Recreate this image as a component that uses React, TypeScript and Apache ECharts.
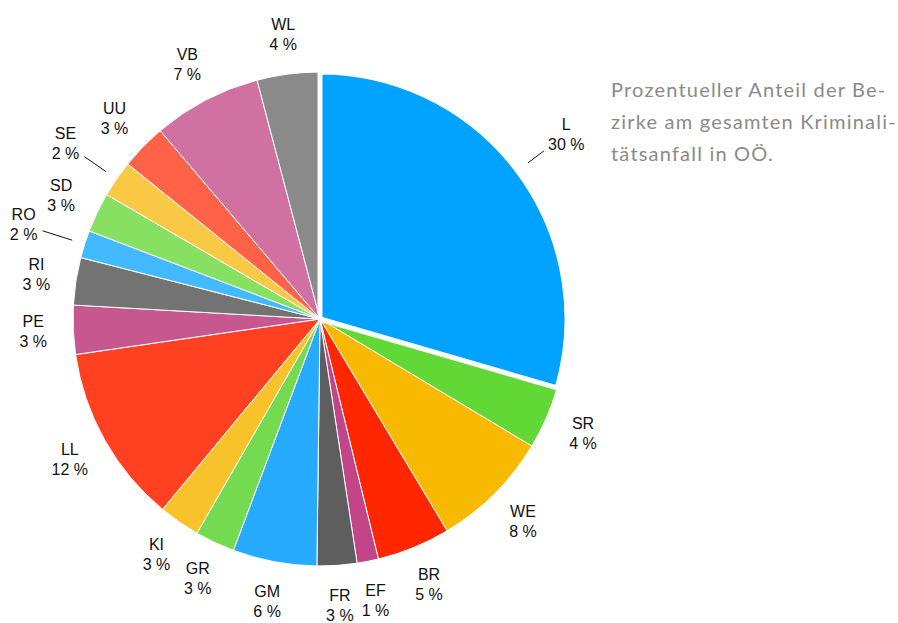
import React, { useEffect, useRef } from "react";
import * as echarts from "echarts";

const categories = ["L", "SR", "WE", "BR", "EF", "FR", "GM", "GR", "KI", "LL", "PE", "RI", "RO", "SD", "SE", "UU", "VB", "WL"];
const values = [29.5, 4.1, 7.8, 4.8, 1.4, 2.6, 5.5, 2.6, 2.7, 11.7, 3.2, 3.1, 1.8, 2.6, 2.4, 3.0, 7.1, 4.1];
const colors = [
  "#00A2FF", "#61D836", "#F8BA00", "#FF2600", "#C2458A", "#5E5E5E",
  "#26ABFF", "#74DA4F", "#F8C32A", "#FF4122", "#C7578F", "#737373",
  "#43B9FF", "#88E063", "#F9C945", "#FF6246", "#D071A2", "#8A8A8A",
];
const highlighted = ["L"];
const farLabels = ["L", "SE", "RO"];
const leaderLengths: Record<string, number> = { L: 20, SE: 26, RO: 31 };
const farDistances: Record<string, number> = { L: 61, SE: 62, RO: 64 };
const titleLines = ["Prozentueller Anteil der Be-", "zirke am gesamten Kriminali-", "tätsanfall in OÖ."];

const CENTER = [320, 319];
const R = 247;

const labelStyle = {
  fontFamily: "Liberation Sans, Arial, sans-serif",
  fontSize: 16,
  lineHeight: 20,
  color: "#111111",
};

const fmt = (p: any) => `${p.name}\n${Math.round(p.percent)} %`;

export default function App() {
  const ref = useRef<HTMLDivElement>(null);
  useEffect(() => {
    if (!ref.current) return;
    const chart = echarts.init(ref.current, null, { renderer: "svg" });
    const base = {
      type: "pie",
      center: CENTER,
      startAngle: 90,
      clockwise: true,
      silent: true,
      avoidLabelOverlap: false,
      emphasis: { disabled: true },
      animation: false,
    };
    chart.setOption({
      animation: false,
      title: {
        text: titleLines.join("\n"),
        left: 606,
        top: 68,
        textStyle: {
          fontFamily: "Lato, sans-serif",
          fontSize: 20,
          fontWeight: "normal",
          color: "#8a8a8a",
          lineHeight: 32,
        },
      },
      series: [
        {
          ...base,
          name: "main",
          radius: R,
          label: { show: false },
          labelLine: { show: false },
          data: categories.map((c, i) => ({
            name: c,
            value: values[i],
            itemStyle: { color: colors[i], borderColor: "#ffffff", borderWidth: 1 },
          })),
        },
        {
          ...base,
          name: "highlight",
          radius: R,
          label: { show: false },
          labelLine: { show: false },
          data: categories.map((c, i) => ({
            name: c,
            value: values[i],
            itemStyle: highlighted.includes(c)
              ? { color: "transparent", borderColor: "#ffffff", borderWidth: 5 }
              : { color: "transparent", borderWidth: 0 },
          })),
        },
        {
          ...base,
          name: "nearLabels",
          radius: [R, R + 74],
          labelLine: { show: false },
          data: categories.map((c, i) => ({
            name: c,
            value: values[i],
            itemStyle: { color: "transparent", borderWidth: 0 },
            label: {
              show: !farLabels.includes(c),
              position: "inside",
              formatter: fmt,
              ...labelStyle,
            },
          })),
        },
        {
          ...base,
          name: "farLabels",
          radius: R,
          labelLayout: (p: any) => {
            const pts = p.labelLinePoints;
            const name = categories[p.dataIndex];
            if (!pts || !farLabels.includes(name)) return {};
            const [x1, y1] = pts[0];
            const [x2, y2] = pts[1];
            const len = Math.hypot(x2 - x1, y2 - y1) || 1;
            const d = farDistances[name];
            return {
              x: x1 + ((x2 - x1) / len) * d,
              y: y1 + ((y2 - y1) / len) * d,
              align: "center",
              verticalAlign: "middle",
            };
          },
          data: categories.map((c, i) => ({
            name: c,
            value: values[i],
            itemStyle: { color: "transparent", borderWidth: 0 },
            label: {
              show: farLabels.includes(c),
              position: "outside",
              formatter: fmt,
              ...labelStyle,
            },
            labelLine: {
              show: farLabels.includes(c),
              length: 10,
              length2: 0,
              lineStyle: { opacity: 0, width: 0 },
            },
          })),
        },
        {
          ...base,
          name: "leaders",
          radius: R + 13,
          data: categories.map((c, i) => ({
            name: c,
            value: values[i],
            itemStyle: { color: "transparent", borderWidth: 0 },
            label: {
              show: farLabels.includes(c),
              position: "outside",
              formatter: " ",
              fontSize: 10,
            },
            labelLine: {
              show: farLabels.includes(c),
              length: leaderLengths[c] || 0,
              length2: 0,
              smooth: false,
              lineStyle: { color: "#111111", width: 1 },
            },
          })),
        },
      ],
    });
    return () => chart.dispose();
  }, []);
  return (
    <>
      <style>{`text[style*="Lato"] { letter-spacing: 1.2px; }`}</style>
      <div
        ref={ref}
        style={{ position: "absolute", left: 0, top: 0, width: 898, height: 623 }}
      />
    </>
  );
}
